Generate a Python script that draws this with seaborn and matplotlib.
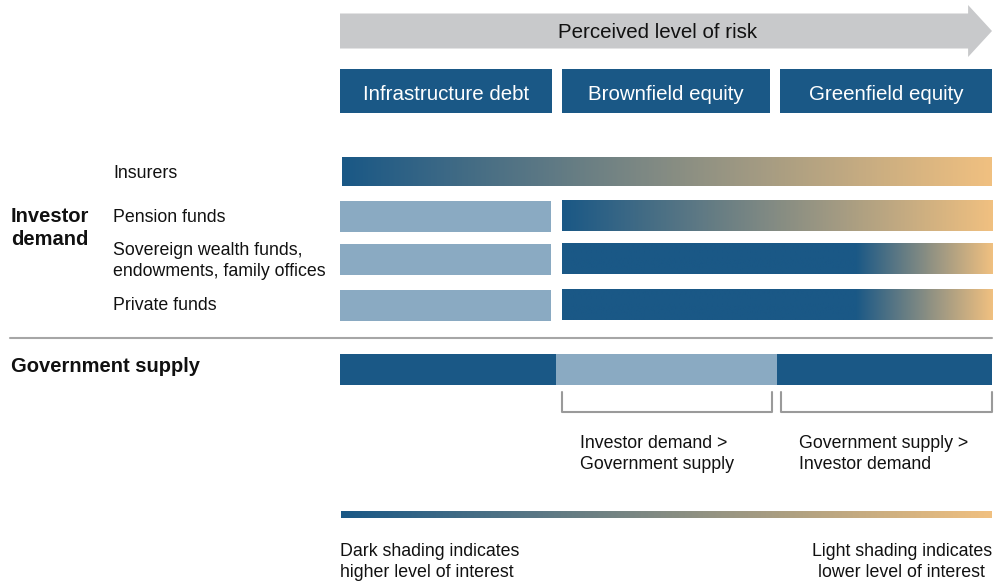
import matplotlib
matplotlib.use("Agg")
import matplotlib.pyplot as plt
import matplotlib.patches as mpatches
import numpy as np
import seaborn as sns

# categories along the risk axis (one unit each)
risk_cats = ["Infrastructure debt", "Brownfield equity", "Greenfield equity"]

# investor rows: solid light segment span, gradient segment span, point where fading starts
investors = ["Insurers", "Pension funds",
             "Sovereign wealth funds,\nendowments, family offices", "Private funds"]
light_spans = [None, (0.0, 0.97), (0.0, 0.97), (0.0, 0.97)]
grad_spans = [(0.01, 3.0), (1.02, 3.0), (1.02, 3.0), (1.02, 3.0)]
fade_start = [0.01, 1.02, 2.37, 2.37]

# government supply segments: (start, end, level) level 1 = dark, 0 = light
gov_segments = [(0.0, 0.995, 1), (0.995, 2.01, 0), (2.01, 3.0, 1)]

# brackets under government supply
bracket_spans = [(1.02, 1.987), (2.03, 3.0)]
bracket_texts = ["Investor demand >\nGovernment supply", "Government supply >\nInvestor demand"]

DARK = "#1a5886"
LIGHT = "#8aaac2"
TAN = "#f0c080"
GREY = "#c8c9cb"
INK = "#111111"

sns.set_theme(style="white")
plt.rcParams["font.family"] = ["Liberation Sans", "DejaVu Sans"]

cmap = sns.blend_palette([DARK, TAN], as_cmap=True)

fig = plt.figure(figsize=(9.94, 5.82), dpi=100)
ax = fig.add_axes([0, 0, 1, 1])
unit = 652 / 3.0  # pixels per risk unit


def px(x):
    return (x - 340) / unit


# arrow
arrow = mpatches.FancyArrow(0, 31, 3.0, 0, width=35, head_width=52,
                            head_length=0.11, length_includes_head=True,
                            color=GREY, lw=0)
ax.add_patch(arrow)
ax.text(1.46, 33, "Perceived level of risk", ha="center", va="center", fontsize=14.8, color=INK)

# header boxes
for i, name in enumerate(risk_cats):
    x0 = i + (0.023 if i > 0 else 0)
    x1 = i + 1 - (0.023 if i < 2 else 0)
    ax.barh(91, x1 - x0, left=x0, height=44, color=DARK, lw=0)
    ax.text((x0 + x1) / 2, 94, name, ha="center", va="center", color="white", fontsize=14.8)

# investor rows
row_y = [172, 216, 259, 305]
bar_h = [29, 31, 31, 31]
for i, name in enumerate(investors):
    y, h = row_y[i], bar_h[i]
    if light_spans[i] is not None:
        a, b = light_spans[i]
        ax.barh(y, b - a, left=a, height=h, color=LIGHT, lw=0)
    a, b = grad_spans[i]
    xs = np.linspace(a, b, 400)
    vals = np.clip((xs - fade_start[i]) / (b - fade_start[i]), 0, 1)
    ax.imshow(vals[None, :], cmap=cmap, vmin=0, vmax=1, aspect="auto",
              extent=(a, b, y + h / 2, y - h / 2), interpolation="bilinear")
    ax.text(px(113), y + (1 if i != 2 else 2), name, ha="left", va="center",
            fontsize=12.8, color=INK, linespacing=1.3)

ax.text(px(11), 228, "Investor\ndemand", ha="left", va="center", fontsize=14.5,
        fontweight="bold", color=INK, linespacing=1.25)

# separator
ax.plot([px(10), px(992)], [338, 338], color="#a6a6a6", lw=1.5)

# government supply
ax.text(px(11), 367, "Government supply", ha="left", va="center", fontsize=14.5,
        fontweight="bold", color=INK)
for a, b, lvl in gov_segments:
    ax.barh(369, b - a, left=a, height=31, color=DARK if lvl else LIGHT, lw=0)

for (a, b), txt in zip(bracket_spans, bracket_texts):
    ax.plot([a, a, b, b], [392, 412, 412, 392], color="#9a9a9a", lw=1.5)
    ax.text(a + 0.083, 454, txt, ha="left", va="center", fontsize=12.8,
            color=INK, linespacing=1.3)

# legend gradient bar
xs = np.linspace(0, 1, 400)
ax.imshow(xs[None, :], cmap=cmap, vmin=0, vmax=1, aspect="auto",
          extent=(px(341), 3.0, 518, 511), interpolation="bilinear")
ax.text(0, 562, "Dark shading indicates\nhigher level of interest", ha="left", va="center",
        fontsize=12.8, color=INK, linespacing=1.3)
ax.text(3.0, 562, "Light shading indicates\nlower level of interest", ha="right", va="center",
        fontsize=12.8, color=INK, linespacing=1.3, multialignment="center")

ax.set_xlim(px(0), px(994))
ax.set_ylim(582, 0)
ax.axis("off")

fig.savefig("out.png", dpi=100)
